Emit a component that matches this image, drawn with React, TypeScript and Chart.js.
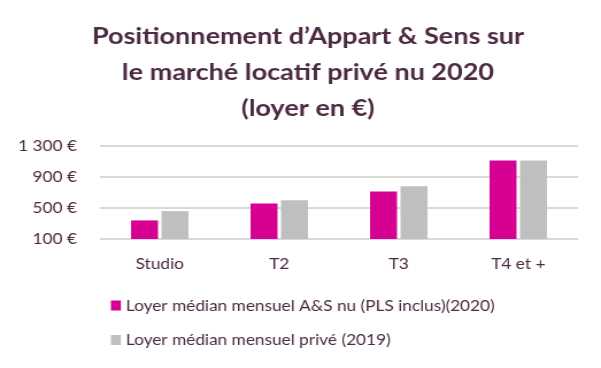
import React, { useEffect, useRef } from "react";
import { Chart, registerables } from "chart.js";

Chart.register(...registerables);

const titleLines = [
  "Positionnement d\u2019Appart & Sens sur",
  "le marché locatif privé nu 2020",
  "(loyer en €)",
];
const categories = ["Studio", "T2", "T3", "T4 et +"];
const seriesNames = [
  "Loyer médian mensuel A&S nu (PLS inclus)(2020)",
  "Loyer médian mensuel privé (2019)",
];
const loyerAS2020 = [340, 560, 715, 1115];
const loyerPrive2019 = [460, 600, 780, 1115];
const yMin = 100;
const yMax = 1300;
const yStep = 400;

const TEXT = "#4B2A42";
const FONT = "Lato";
// the reference is rendered slightly wide: draw narrower and stretch horizontally
const STRETCH = 1.15;
const W = 601;
const H = 368;
const CW = Math.round(W / STRETCH);

function formatEuro(v: number): string {
  if (v >= 1000) {
    const th = Math.floor(v / 1000);
    const rest = String(v % 1000).padStart(3, "0");
    return `${th}\u00a0${rest}\u00a0€`;
  }
  return `${v}\u00a0€`;
}

const legendPlugin = {
  id: "customLegend",
  afterDraw(chart: any) {
    const ctx = chart.ctx;
    const x0 = chart.chartArea.left + 9.5;
    ctx.save();
    ctx.font = `15px ${FONT}`;
    ctx.textBaseline = "alphabetic";
    ctx.textAlign = "left";
    chart.data.datasets.forEach((ds: any, i: number) => {
      const y = 300.5 + i * 34.5;
      ctx.fillStyle = ds.backgroundColor;
      ctx.fillRect(x0, y, 10 / STRETCH, 10);
      ctx.fillStyle = TEXT;
      ctx.fillText(ds.label, x0 + 13, y + 10);
    });
    ctx.restore();
  },
};

export default function App() {
  const ref = useRef<HTMLCanvasElement | null>(null);
  useEffect(() => {
    document.body.style.margin = "0";
    const chart = new Chart(ref.current as HTMLCanvasElement, {
      type: "bar",
      data: {
        labels: categories,
        datasets: [
          {
            label: seriesNames[0],
            data: loyerAS2020,
            backgroundColor: "#D60093",
            categoryPercentage: 0.51,
            barPercentage: 0.885,
          },
          {
            label: seriesNames[1],
            data: loyerPrive2019,
            backgroundColor: "#BFBFBF",
            categoryPercentage: 0.51,
            barPercentage: 0.885,
          },
        ],
      },
      options: {
        responsive: false,
        animation: false,
        layout: { padding: { top: 0, right: 0, bottom: 95, left: 13 } },
        plugins: {
          legend: { display: false },
          tooltip: { enabled: false },
          title: {
            display: true,
            text: titleLines,
            color: TEXT,
            font: { family: FONT, size: 23.5, weight: "bold", lineHeight: 35.7 / 23.5 },
            padding: { top: 19, bottom: 20 },
          },
        },
        scales: {
          x: {
            grid: { display: false, drawTicks: false },
            border: { display: false },
            ticks: { color: TEXT, font: { family: FONT, size: 15 }, padding: 16 },
            afterFit: (s: any) => {
              s.height = 34;
            },
          },
          y: {
            min: yMin,
            max: yMax,
            grid: { color: "#D9D9D9", lineWidth: 2, drawTicks: false },
            border: { display: false },
            ticks: {
              stepSize: yStep,
              color: TEXT,
              font: { family: FONT, size: 15 },
              padding: 20,
              callback: (v: any) => formatEuro(Number(v)),
            },
            afterFit: (s: any) => {
              s.width = 74;
            },
          },
          yRight: {
            type: "linear",
            position: "right",
            display: true,
            grid: { display: false, drawTicks: false },
            border: { display: false },
            ticks: { display: false },
            afterFit: (s: any) => {
              s.width = 20;
            },
          },
        },
      },
      plugins: [legendPlugin],
    });
    return () => chart.destroy();
  }, []);
  return (
    <div style={{ width: W, height: H, background: "#fff", overflow: "hidden" }}>
      <canvas
        ref={ref}
        width={CW}
        height={H}
        style={{ width: `${W}px`, height: `${H}px`, display: "block" }}
      />
    </div>
  );
}
